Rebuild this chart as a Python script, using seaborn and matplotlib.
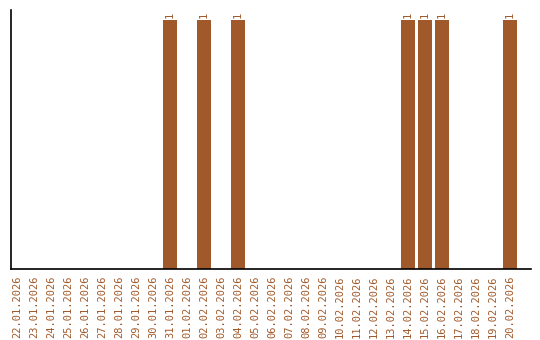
import matplotlib
matplotlib.use("Agg")
import matplotlib.pyplot as plt
import seaborn as sns
import pandas as pd

dates = ["22.01.2026", "23.01.2026", "24.01.2026", "25.01.2026", "26.01.2026",
         "27.01.2026", "28.01.2026", "29.01.2026", "30.01.2026", "31.01.2026",
         "01.02.2026", "02.02.2026", "03.02.2026", "04.02.2026", "05.02.2026",
         "06.02.2026", "07.02.2026", "08.02.2026", "09.02.2026", "10.02.2026",
         "11.02.2026", "12.02.2026", "13.02.2026", "14.02.2026", "15.02.2026",
         "16.02.2026", "17.02.2026", "18.02.2026", "19.02.2026", "20.02.2026"]
counts = [0, 0, 0, 0, 0, 0, 0, 0, 0, 1,
          0, 1, 0, 1, 0, 0, 0, 0, 0, 0,
          0, 0, 0, 1, 1, 1, 0, 0, 0, 1]

BAR = "#A0592A"
sns.set_style("white")
plt.rcParams['font.family'] = ['DejaVu Sans Mono', 'DejaVu Sans']

df = pd.DataFrame({"date": dates, "count": counts})
fig = plt.figure(figsize=(5.4, 3.4), dpi=100)
ax = fig.add_axes([10.5/540, 1 - 269/340, 520.5/540, 259/340])
sns.barplot(data=df, x="date", y="count", color=BAR, saturation=1, width=0.82,
            linewidth=0, ax=ax)
ax.set_ylim(0, 1.04)
ax.set_xlim(-0.38, 30.24)
for i, v in enumerate(counts):
    if v > 0:
        ax.text(i, v + 0.006, str(v), rotation=90, ha="center", va="bottom",
                fontsize=7.5, color=BAR)
ax.set_xlabel("")
ax.set_ylabel("")
ax.set_yticks([])
ax.tick_params(axis="x", length=0, pad=5, labelsize=7.5, labelcolor=BAR, rotation=90)
for s in ["top", "right"]:
    ax.spines[s].set_visible(False)
for s in ["left", "bottom"]:
    ax.spines[s].set_color("black")
    ax.spines[s].set_linewidth(1.2)
fig.savefig("out.png", dpi=100)
